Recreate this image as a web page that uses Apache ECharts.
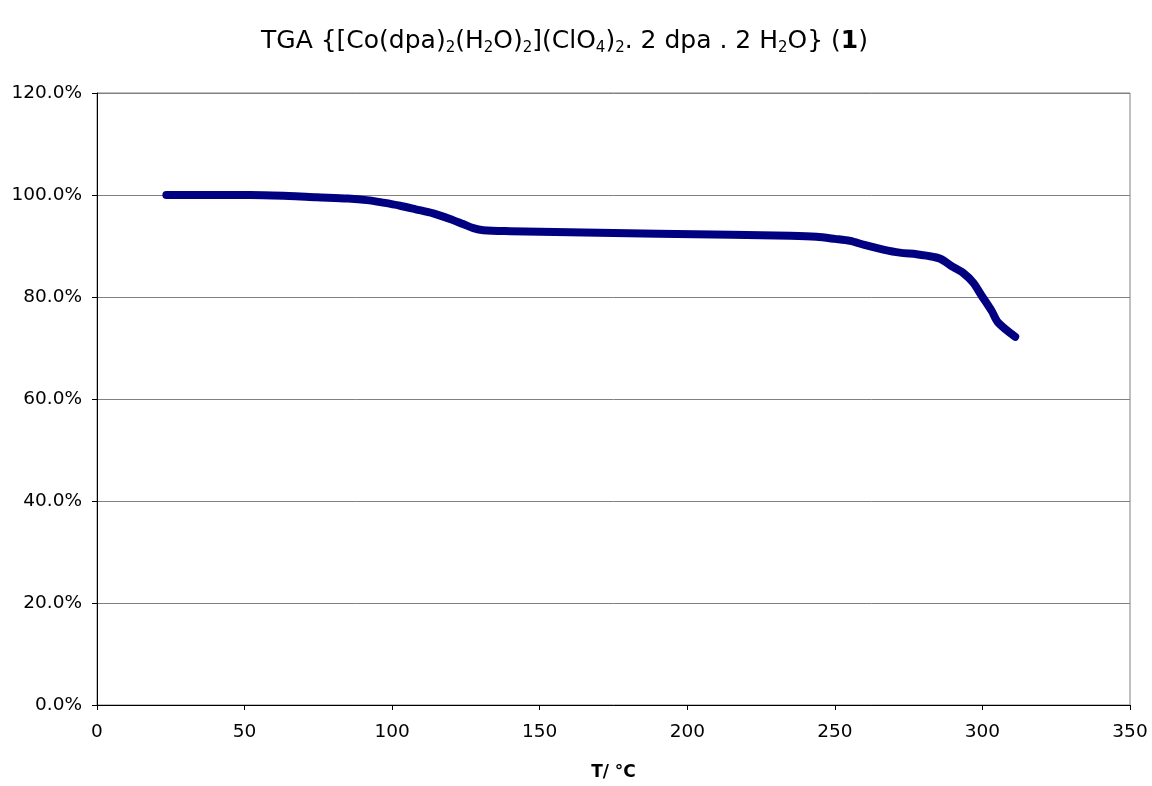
<!DOCTYPE html>
<html>
<head>
<meta charset="utf-8">
<script src="https://cdn.jsdelivr.net/npm/echarts@6/dist/echarts.min.js"></script>
<style>html,body{margin:0;padding:0;background:#fff}#c{width:1152px;height:786px}</style>
</head>
<body>
<div id="c"></div>
<script>
var temps = [23.5, 35, 51.8, 65, 74.4, 85, 91.4, 97, 102.7, 108, 113.9, 119.6, 124, 127.5, 130.9, 140, 150, 170, 190, 215, 235, 243.8, 250, 255.2, 260, 266.4, 272, 277.7, 281, 285.7, 290, 293.5, 296.9, 299.8, 303.2, 305.3, 311.1];
var mass = [100.0, 100.0, 100.0, 99.8, 99.55, 99.3, 99.0, 98.5, 97.9, 97.2, 96.4, 95.3, 94.3, 93.5, 93.1, 92.9, 92.8, 92.6, 92.4, 92.2, 92.0, 91.8, 91.4, 91.0, 90.2, 89.3, 88.7, 88.4, 88.1, 87.5, 85.9, 84.7, 82.8, 80.2, 77.2, 75.0, 72.2];
var xTicks = {min: 0, max: 350, step: 50};
var yTicks = {min: 0, max: 120, step: 20};

var data = temps.map(function (t, i) { return [t, mass[i]]; });
var FONT = 'Verdana, "DejaVu Sans", sans-serif';
var TS = 25;
var chart = echarts.init(document.getElementById('c'));
chart.setOption({
  animation: false,
  backgroundColor: '#fff',
  title: {
    text: '{n|TGA {[Co(dpa)}{s|2}{n|(H}{s|2}{n|O)}{s|2}{n|](ClO}{s|4}{n|)}{s|2}{n|. 2 dpa . 2 H}{s|2}{n|O}} {n|(}{b|1}{n|)}',
    left: 256,
    top: 21,
    textStyle: {
      fontFamily: FONT, fontSize: TS, fontWeight: 'normal', color: '#000', lineHeight: 30, verticalAlign: 'middle',
      rich: {
        n: {fontFamily: FONT, fontSize: TS, color: '#000', fontWeight: 'normal', lineHeight: 30, verticalAlign: 'middle'},
        b: {fontFamily: FONT, fontSize: TS, color: '#000', fontWeight: 'bold', lineHeight: 30, verticalAlign: 'middle'},
        s: {fontFamily: FONT, fontSize: 15, color: '#000', fontWeight: 'normal', lineHeight: 15, verticalAlign: 'bottom'}
      }
    }
  },
  grid: {
    left: 97, right: 22, top: 93, bottom: 79,
    show: true, borderColor: '#808080', borderWidth: 1, backgroundColor: '#fff'
  },
  xAxis: {
    type: 'value',
    min: xTicks.min, max: xTicks.max, interval: xTicks.step,
    name: 'T/ \u00B0C',
    nameLocation: 'middle',
    nameGap: 59,
    nameTextStyle: {fontFamily: FONT, fontSize: 17, fontWeight: 'bold', color: '#000'},
    axisLine: {show: true, lineStyle: {color: '#000', width: 1}},
    axisTick: {show: true, inside: false, length: 5, lineStyle: {color: '#000'}},
    axisLabel: {fontFamily: FONT, fontSize: 18.5, color: '#000', margin: 18},
    splitLine: {show: false}
  },
  yAxis: {
    type: 'value',
    min: yTicks.min, max: yTicks.max, interval: yTicks.step,
    axisLine: {show: true, lineStyle: {color: '#000', width: 1}},
    axisTick: {show: true, inside: false, length: 5, lineStyle: {color: '#000'}},
    axisLabel: {fontFamily: FONT, fontSize: 18.5, color: '#000', margin: 15,
      formatter: function (v) { return v.toFixed(1) + '%'; }},
    splitLine: {show: true, lineStyle: {color: '#808080', width: 1}}
  },
  series: [{
    type: 'line',
    data: data,
    smooth: 0.3,
    showSymbol: false,
    symbol: 'none',
    lineStyle: {color: '#000080', width: 8, cap: 'round', join: 'round'}
  }]
});
</script>
</body>
</html>
